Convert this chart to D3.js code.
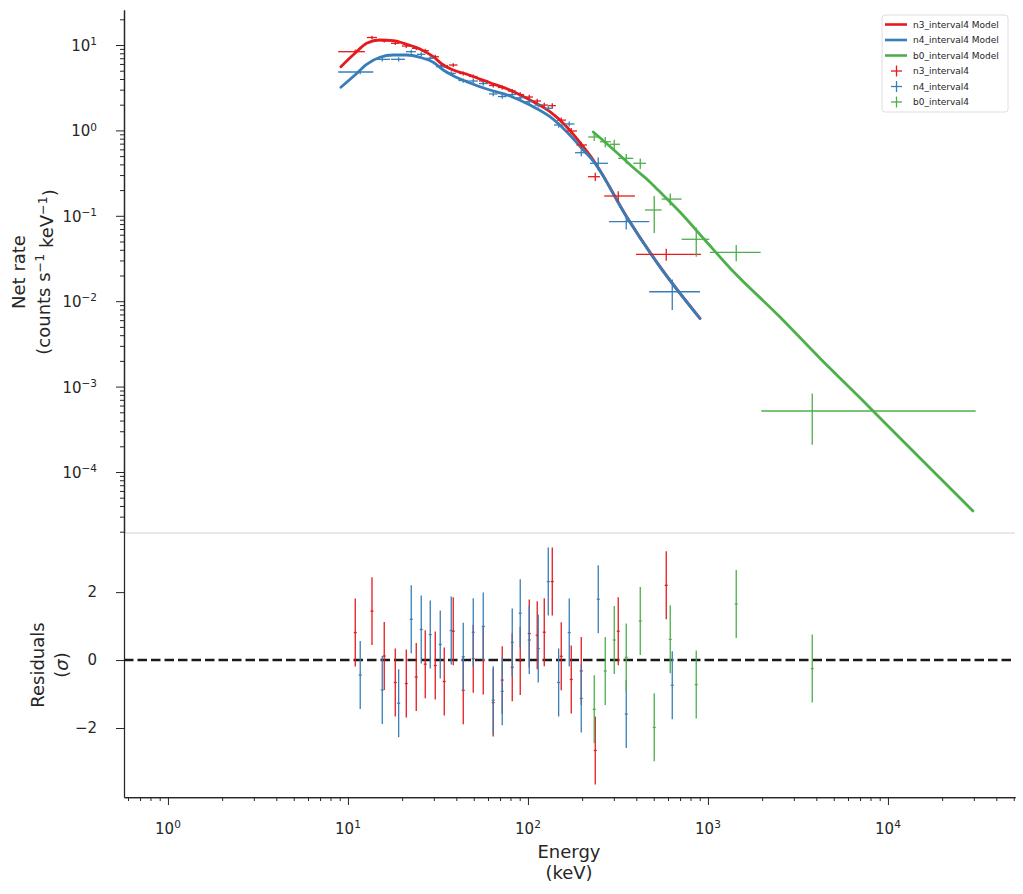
<!DOCTYPE html>
<html>
<head>
<meta charset="utf-8">
<script src="https://cdn.jsdelivr.net/npm/d3@7"></script>
<style>
    body { margin: 0; background: #fff; }
    svg { font-family: "DejaVu Sans", sans-serif; }
</style>
</head>
<body>
<svg id="chart" width="1023" height="894"></svg>
<script>
// ---- data ----
const n3Energy = [10.98, 13.60, 15.91, 18.32, 21.09, 23.96, 26.88, 30.55, 34.28, 38.46, 43.71, 49.67, 56.45, 64.15, 71.97, 81.80, 90.6, 101.7, 112.6, 123.2, 136.5, 153.1, 174.0, 197.8, 236.6, 317.5, 586.6]
const n3Lo = [8.83, 12.75, 15.06, 17.34, 19.95, 22.68, 25.44, 28.91, 32.44, 36.40, 41.38, 47.0, 53.44, 60.72, 68.13, 77.43, 86.88, 96.85, 107.3, 118.1, 130.0, 144.9, 162.6, 186.0, 215.4, 265.4, 398.1]
const n3Hi = [12.43, 14.50, 16.79, 19.32, 22.10, 25.12, 28.18, 32.03, 35.94, 40.59, 46.13, 52.42, 59.57, 67.70, 75.96, 85.77, 95.0, 106.6, 118.1, 129.2, 143.0, 162.6, 187.2, 212.7, 251.2, 393.0, 914.3]
const n3Rate = [8.35, 12.24, 11.23, 10.47, 9.73, 9.15, 8.58, 7.29, 5.72, 5.83, 4.64, 4.28, 3.79, 3.36, 3.18, 2.89, 2.63, 2.46, 2.21, 1.98, 1.95, 1.32, 0.984, 0.675, 0.287, 0.1705, 0.0354]
const n3Err = [0.5, 0.6, 0.55, 0.5, 0.5, 0.45, 0.45, 0.4, 0.3, 0.3, 0.25, 0.23, 0.2, 0.19, 0.18, 0.17, 0.16, 0.15, 0.14, 0.13, 0.13, 0.1, 0.08, 0.06, 0.032, 0.024, 0.0057]
const n3Resid = [0.81, 1.44, 0.12, -0.66, -0.69, -0.5, -0.12, -0.16, -0.63, 0.85, -0.89, 0.04, -0.01, -1.25, -0.59, -0.21, -0.03, 0.78, 0.73, 0.82, 2.31, 0.11, -0.57, -0.32, -2.66, 0.85, 2.2]

const n4Energy = [11.70, 15.51, 19.13, 22.47, 25.54, 28.66, 32.57, 37.49, 43.71, 49.67, 56.45, 64.15, 71.97, 81.80, 90.6, 101.7, 114.1, 129.7, 148.1, 169.6, 197.8, 245.8, 351.7, 633.5]
const n4Lo = [8.83, 14.44, 17.34, 21.0, 24.17, 27.13, 30.82, 35.26, 41.11, 46.71, 53.44, 60.72, 68.13, 77.43, 86.33, 96.85, 108.7, 122.0, 139.5, 159.5, 182.5, 221.0, 281.8, 472.0]
const n4Hi = [13.82, 17.11, 20.73, 23.87, 26.96, 30.24, 34.37, 39.81, 46.42, 52.76, 59.95, 67.70, 75.96, 85.77, 95.6, 106.6, 119.6, 137.7, 156.5, 181.3, 215.4, 278.3, 472.0, 902.7]
const n4Rate = [4.83, 6.80, 6.80, 8.35, 7.78, 6.99, 5.57, 4.66, 3.84, 3.79, 3.54, 2.67, 2.49, 2.63, 2.41, 2.17, 1.98, 1.815, 1.157, 1.189, 0.548, 0.412, 0.0853, 0.0129]
const n4Err = [0.3, 0.4, 0.4, 0.45, 0.42, 0.38, 0.3, 0.27, 0.22, 0.22, 0.2, 0.16, 0.15, 0.15, 0.14, 0.13, 0.12, 0.11, 0.08, 0.08, 0.05, 0.07, 0.016, 0.005]
const n4Resid = [-0.44, -0.88, -1.27, 1.20, 0.9, 0.75, 0.46, 0.87, 0.1, 0.82, 0.99, -1.18, -0.92, 0.52, 1.38, 0.59, 0.34, 2.31, -0.66, 0.81, -1.13, 1.79, -1.59, -0.74]

const b0Energy = [233.5, 268.8, 301.6, 351.7, 420.7, 503.0, 617.4, 861.0, 1436, 3797]
const b0Lo = [216.3, 251.2, 285.5, 317.5, 384.6, 446.7, 553.1, 714.4, 1026, 1978]
const b0Hi = [251.2, 289.2, 324.4, 384.6, 452.4, 553.1, 714.4, 1017, 1963, 30700]
const b0Rate = [0.837, 0.737, 0.688, 0.471, 0.412, 0.117, 0.157, 0.0531, 0.0374, 5.18e-4]
const b0Err = [0.085, 0.1, 0.09, 0.06, 0.058, 0.054, 0.025, 0.02, 0.008, 3.1e-4]
const b0Resid = [-1.45, -0.32, 0.59, 0.08, 1.15, -1.98, 0.61, -0.72, 1.65, -0.25]

// model curves
const gbmModelEnergy = [9.14, 10.94, 12.70, 15.06, 17.85, 21.19, 25.12, 29.78, 33.83, 38.46, 45.65, 61.5, 79.4, 102.6, 132.5, 164.1, 202.9, 230.6, 353.5, 541.3, 902.7]
const n3ModelRate = [5.57, 7.99, 10.47, 11.44, 11.23, 10.19, 8.98, 7.29, 5.83, 5.10, 4.54, 3.62, 2.97, 2.27, 1.66, 1.105, 0.644, 0.450, 0.0976, 0.0254, 0.0063]
const n4ModelRate = [3.20, 4.45, 5.94, 7.18, 7.64, 7.64, 7.18, 6.27, 5.10, 4.37, 3.72, 2.97, 2.53, 1.98, 1.447, 0.966, 0.590, 0.438, 0.0968, 0.0252, 0.0063]
const b0ModelEnergy = [230.5, 300.5, 393, 476, 508, 699, 962, 1325, 2512, 4190, 6990, 11660, 19450, 29650]
const b0ModelRate = [0.958, 0.590, 0.353, 0.249, 0.217, 0.1108, 0.0521, 0.0245, 0.00653, 0.00215, 7.4e-4, 2.5e-4, 8.5e-5, 3.49e-5]

const detectors = ["n3_interval4", "n4_interval4", "b0_interval4"]
const colors = ["#e41a1c", "#377eb8", "#4daf4a"]
const xMajor = [1, 10, 100, 1000, 10000]
const yMajor = [1e-4, 1e-3, 1e-2, 1e-1, 1, 10]
const residTicks = [-2, 0, 2]

// ---- layout ----
let plotLeft = 124, plotRight = 1015,
    plotTopY = 10, plotMidY = 533, plotBottomY = 797;
const ink = "#262626"

let svg = d3.select("#chart")

let x = d3.scaleLog().domain([0.57, 50800]).range([plotLeft, plotRight])
let yTop = d3.scaleLog().domain([1.93e-5, 25.7]).range([plotMidY, plotTopY])
let yRes = d3.scaleLinear().domain([-4.03, 3.74]).range([plotBottomY, plotMidY])

let defs = svg.append("defs")
defs.append("clipPath").attr("id", "clipTop")
    .append("rect").attr("x", plotLeft).attr("y", plotTopY)
    .attr("width", plotRight - plotLeft).attr("height", plotMidY - plotTopY)
defs.append("clipPath").attr("id", "clipRes")
    .append("rect").attr("x", plotLeft).attr("y", plotMidY)
    .attr("width", plotRight - plotLeft).attr("height", plotBottomY - plotMidY)

const minorTicks = (lo, hi) => {
    let out = []
    for (let k = Math.floor(Math.log10(lo)); k <= Math.ceil(Math.log10(hi)); k++) {
        for (let m = 2; m <= 9; m++) {
            let v = m * Math.pow(10, k)
            if (v >= lo && v <= hi) out.push(v)
        }
    }
    return out
}

const powLabel = (sel, v) => {
    let e = Math.round(Math.log10(v))
    sel.append("tspan").text("10")
    sel.append("tspan").attr("dy", "-0.55em").attr("font-size", "0.7em").text(e < 0 ? "\u2212" + (-e) : e)
}

const styleAxis = g => {
    g.selectAll("path.domain").attr("stroke", ink).attr("stroke-width", 1.25)
    g.selectAll(".tick line").attr("stroke", ink).attr("stroke-width", 1)
}

// separator between panels
svg.append("line").attr("x1", plotLeft).attr("x2", plotRight).attr("y1", plotMidY).attr("y2", plotMidY)
    .attr("stroke", "#d0d0d0").attr("stroke-width", 1)

// ---- top panel axes ----
let gyMinor = svg.append("g").attr("transform", `translate(${plotLeft},0)`)
    .call(d3.axisLeft(yTop).tickValues(minorTicks(1.93e-5, 25.7)).tickSize(4).tickSizeOuter(0).tickFormat(""))
styleAxis(gyMinor)
let gy = svg.append("g").attr("transform", `translate(${plotLeft},0)`)
    .call(d3.axisLeft(yTop).tickValues(yMajor).tickSize(8).tickSizeOuter(0).tickFormat(""))
styleAxis(gy)
svg.append("g").selectAll("text").data(yMajor).enter().append("text")
    .attr("x", 97).attr("y", d => yTop(d) + 6)
    .attr("text-anchor", "end").attr("font-size", 15).attr("fill", ink)
    .each(function (d) { powLabel(d3.select(this), d) })

// ---- residual panel axes ----
let gr = svg.append("g").attr("transform", `translate(${plotLeft},0)`)
    .call(d3.axisLeft(yRes).tickValues(residTicks).tickSize(8).tickSizeOuter(0)
        .tickFormat(d => d < 0 ? "\u2212" + Math.abs(d) : d))
styleAxis(gr)
gr.selectAll(".tick text").attr("font-size", 15).attr("fill", ink)
    .attr("font-family", "DejaVu Sans").attr("x", 97 - plotLeft)

let gxMinor = svg.append("g").attr("transform", `translate(0,${plotBottomY})`)
    .call(d3.axisBottom(x).tickValues(minorTicks(0.57, 50800)).tickSize(4).tickSizeOuter(0).tickFormat(""))
styleAxis(gxMinor)
let gx = svg.append("g").attr("transform", `translate(0,${plotBottomY})`)
    .call(d3.axisBottom(x).tickValues(xMajor).tickSize(8).tickSizeOuter(0).tickFormat(""))
styleAxis(gx)
svg.append("g").selectAll("text").data(xMajor).enter().append("text")
    .attr("x", d => x(d)).attr("y", 834)
    .attr("text-anchor", "middle").attr("font-size", 15).attr("fill", ink)
    .each(function (d) { powLabel(d3.select(this), d) })

// axis titles
svg.append("text").attr("x", 569).attr("y", 858).attr("text-anchor", "middle")
    .attr("font-size", 18).attr("fill", ink).text("Energy")
svg.append("text").attr("x", 569).attr("y", 879).attr("text-anchor", "middle")
    .attr("font-size", 18).attr("fill", ink).text("(keV)")

const vLabel = (cx, cy, build) => {
    let t = svg.append("text").attr("transform", `translate(${cx},${cy}) rotate(-90)`)
        .attr("dy", "0.35em").attr("text-anchor", "middle").attr("font-size", 18).attr("fill", ink)
    build(t)
}
vLabel(19, 272, t => t.text("Net rate"))
vLabel(44, 272, t => {
    t.append("tspan").text("(counts s")
    t.append("tspan").attr("dy", "-0.5em").attr("font-size", "0.7em").text("\u22121")
    t.append("tspan").attr("dy", "0.5em").text(" keV")
    t.append("tspan").attr("dy", "-0.5em").attr("font-size", "0.7em").text("\u22121")
    t.append("tspan").attr("dy", "0.5em").text(")")
})
vLabel(38, 665, t => t.text("Residuals"))
vLabel(62, 665, t => {
    t.append("tspan").text("(")
    t.append("tspan").attr("font-style", "italic").text("\u03c3")
    t.append("tspan").text(")")
})

// ---- models ----
let line = d3.line().x(d => x(d[0])).y(d => yTop(d[1])).curve(d3.curveMonotoneX)
let models = [
    d3.zip(gbmModelEnergy, n3ModelRate),
    d3.zip(gbmModelEnergy, n4ModelRate),
    d3.zip(b0ModelEnergy, b0ModelRate)
]
let plotTop = svg.append("g").attr("clip-path", "url(#clipTop)")
models.forEach((m, i) => {
    plotTop.append("path").datum(m).attr("d", line)
        .attr("fill", "none").attr("stroke", colors[i]).attr("stroke-width", 2.8)
        .attr("stroke-linejoin", "round").attr("stroke-linecap", "round")
})

// ---- data points with error bars ----
let sets = [
    { e: n3Energy, lo: n3Lo, hi: n3Hi, r: n3Rate, err: n3Err, res: n3Resid },
    { e: n4Energy, lo: n4Lo, hi: n4Hi, r: n4Rate, err: n4Err, res: n4Resid },
    { e: b0Energy, lo: b0Lo, hi: b0Hi, r: b0Rate, err: b0Err, res: b0Resid }
]
sets.forEach((s, i) => {
    let pts = s.e.map((e, j) => ({ e: e, lo: s.lo[j], hi: s.hi[j], r: s.r[j], err: s.err[j] }))
    let g = plotTop.append("g").attr("stroke", colors[i]).attr("stroke-width", 1.3)
    g.selectAll(".h").data(pts).enter().append("line")
        .attr("x1", d => x(d.lo)).attr("x2", d => x(d.hi))
        .attr("y1", d => yTop(d.r)).attr("y2", d => yTop(d.r))
    g.selectAll(".v").data(pts).enter().append("line")
        .attr("x1", d => x(d.e)).attr("x2", d => x(d.e))
        .attr("y1", d => yTop(Math.max(d.r - d.err, 1e-6))).attr("y2", d => yTop(d.r + d.err))
})

// ---- residuals ----
let plotRes = svg.append("g").attr("clip-path", "url(#clipRes)")
plotRes.append("line").attr("x1", plotLeft).attr("x2", plotRight).attr("y1", yRes(0)).attr("y2", yRes(0))
    .attr("stroke", "#1a1a1a").attr("stroke-width", 2.6).attr("stroke-dasharray", "9.5,4")
sets.forEach((s, i) => {
    let pts = s.e.map((e, j) => ({ e: e, res: s.res[j] }))
    let g = plotRes.append("g").attr("stroke", colors[i]).attr("stroke-width", 1.3)
    g.selectAll(".v").data(pts).enter().append("line")
        .attr("x1", d => x(d.e)).attr("x2", d => x(d.e))
        .attr("y1", d => yRes(d.res - 1)).attr("y2", d => yRes(d.res + 1))
    g.selectAll(".h").data(pts).enter().append("line")
        .attr("x1", d => x(d.e) - 1.5).attr("x2", d => x(d.e) + 1.5)
        .attr("y1", d => yRes(d.res)).attr("y2", d => yRes(d.res))
})

// ---- legend ----
let legend = svg.append("g").attr("transform", "translate(882,15)")
legend.append("rect").attr("width", 126).attr("height", 97).attr("rx", 3)
    .attr("fill", "#fff").attr("fill-opacity", 0.8).attr("stroke", "#dedede").attr("stroke-width", 1)
let labels = detectors.map(d => d + " Model").concat(detectors)
labels.forEach((lab, k) => {
    let yy = 9.5 + k * 15.5
    let c = colors[k % 3]
    if (k < 3) {
        legend.append("line").attr("x1", 3).attr("x2", 25).attr("y1", yy).attr("y2", yy)
            .attr("stroke", c).attr("stroke-width", 2.6)
    } else {
        legend.append("line").attr("x1", 9).attr("x2", 20).attr("y1", yy).attr("y2", yy)
            .attr("stroke", c).attr("stroke-width", 1.3)
        legend.append("line").attr("x1", 14.5).attr("x2", 14.5).attr("y1", yy - 5.5).attr("y2", yy + 5.5)
            .attr("stroke", c).attr("stroke-width", 1.3)
    }
    legend.append("text").attr("x", 31).attr("y", yy).attr("dy", "0.35em")
        .attr("font-size", 9).attr("fill", ink).text(lab)
})
</script>
</body>
</html>
